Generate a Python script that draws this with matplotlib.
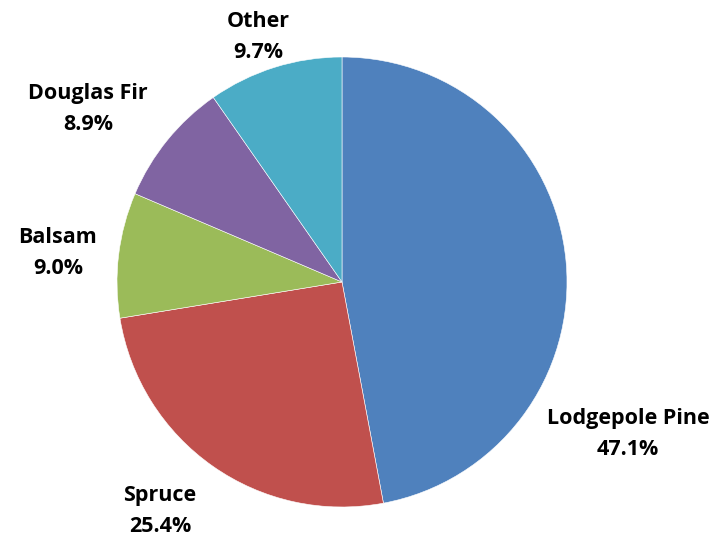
import matplotlib.pyplot as plt

species = ['Lodgepole Pine', 'Spruce', 'Balsam', 'Douglas Fir', 'Other']
shares = [47.1, 25.4, 9.0, 8.9, 9.7]
colors = ['#4F81BD', '#C0504D', '#9BBB59', '#8064A2', '#4BACC6']

# label centres in pixel coords (x from left, y from top), Excel "best fit"
label_pos = [(628, 434), (160, 511), (58, 253), (88, 109), (258, 37)]

W, H = 728, 537
fig = plt.figure(figsize=(W / 100, H / 100), dpi=100)
ax = fig.add_axes([0, 0, 1, 1])

ax.pie(shares, colors=colors, startangle=90, counterclock=False,
       radius=225, center=(342, H - 282), frame=True,
       wedgeprops=dict(edgecolor='white', linewidth=0.4))
ax.set_xlim(0, W)
ax.set_ylim(0, H)
ax.set_aspect('equal')
ax.axis('off')

for name, v, (x, y) in zip(species, shares, label_pos):
    ax.text(x, H - y, f'{name}\n{v:.1f}%', ha='center', va='center',
            fontsize=15.5, fontweight='bold', family=['Open Sans', 'DejaVu Sans'],
            linespacing=1.65, color='black')

fig.savefig('out.png', dpi=100)
